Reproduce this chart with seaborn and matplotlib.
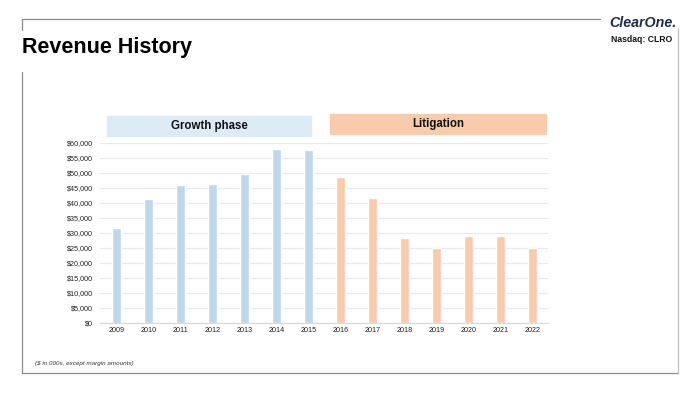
import matplotlib
matplotlib.use("Agg")
import matplotlib.pyplot as plt
import matplotlib.lines as mlines
import matplotlib.patches as mpatches
import seaborn as sns
import pandas as pd

years = ["2009", "2010", "2011", "2012", "2013", "2014", "2015",
         "2016", "2017", "2018", "2019", "2020", "2021", "2022"]
revenue = [31400, 41200, 45900, 46200, 49600, 57800, 57700,
           48600, 41700, 28100, 24900, 28900, 28900, 25000]
phase = ["Growth phase"] * 7 + ["Litigation"] * 7
y_ticks = list(range(0, 60001, 5000))

data = pd.DataFrame({"year": years, "revenue": revenue, "phase": phase})

sns.set_style("white")
plt.rcParams["font.family"] = ["Liberation Sans", "DejaVu Sans"]

fig = plt.figure(figsize=(7, 3.93), dpi=100)
ax = fig.add_axes([0.1429, 0.1789, 0.640, 0.458])

palette = {"Growth phase": "#BDD7EE", "Litigation": "#F8CBAD"}
sns.barplot(data=data, x="year", y="revenue", hue="phase", palette=palette,
            width=0.3, dodge=False, legend=False, ax=ax, saturation=1)

ax.set_xlim(-0.52, 13.48)
ax.set_ylim(0, 60000)
ax.set_yticks(y_ticks)
ax.set_yticklabels(["${:,}".format(v) for v in y_ticks])
ax.yaxis.grid(True, color="#EAEAEA", linewidth=0.9)
ax.set_axisbelow(True)
ax.tick_params(axis="both", labelsize=5.2, length=0, colors="#222222")
ax.tick_params(axis="y", pad=5)
ax.tick_params(axis="x", pad=3)
ax.set_xlabel("")
ax.set_ylabel("")
for s in ["top", "right", "left"]:
    ax.spines[s].set_visible(False)
ax.spines["bottom"].set_color("#D9D9D9")
ax.spines["bottom"].set_linewidth(0.9)

# phase banners
W, H = 700, 393
def px_box(x0, y0, x1, y1, color):
    fig.patches.append(mpatches.Rectangle((x0 / W, 1 - y1 / H), (x1 - x0) / W, (y1 - y0) / H,
                                          transform=fig.transFigure, color=color, zorder=0))

px_box(107, 116, 311, 135.5, "#DDEBF7")
px_box(330, 114.5, 546, 134, "#F8CBAD")
fig.text(209 / W, 1 - 126 / H, "Growth phase", ha="center", va="center",
         fontsize=8.3, fontweight="bold", color="#111111")
fig.text(438 / W, 1 - 124 / H, "Litigation", ha="center", va="center",
         fontsize=8.3, fontweight="bold", color="#111111")

# slide frame
frame = dict(color="#8C8C8C", linewidth=0.9, transform=fig.transFigure)
def px_line(xs, ys, **kw):
    fig.lines.append(mlines.Line2D([x / W for x in xs], [1 - y / H for y in ys], **kw))

px_line([22, 600], [19, 19], **frame)
px_line([22, 22], [19, 30], **frame)
px_line([22, 22], [72, 372.5], **frame)
px_line([22, 678], [372.5, 372.5], **frame)
px_line([678, 678], [28, 372.5], color="#BFBFBF", linewidth=0.9, transform=fig.transFigure)

fig.text(22 / W, 1 - 47.5 / H, "Revenue History", ha="left", va="center",
         fontsize=15.5, fontweight="bold", color="#000000")
fig.text(677 / W, 1 - 23 / H, "ClearOne.", ha="right", va="center",
         fontsize=10.3, fontweight="bold", fontstyle="italic", color="#1F2D4D")
fig.text(672 / W, 1 - 39 / H, "Nasdaq: CLRO", ha="right", va="center",
         fontsize=6.2, fontweight="bold", color="#111111")
fig.text(35 / W, 1 - 363 / H, "($ in 000s, except margin amounts)", ha="left", va="center",
         fontsize=4.5, fontstyle="italic", color="#333333")

fig.savefig("out.png", dpi=100)
